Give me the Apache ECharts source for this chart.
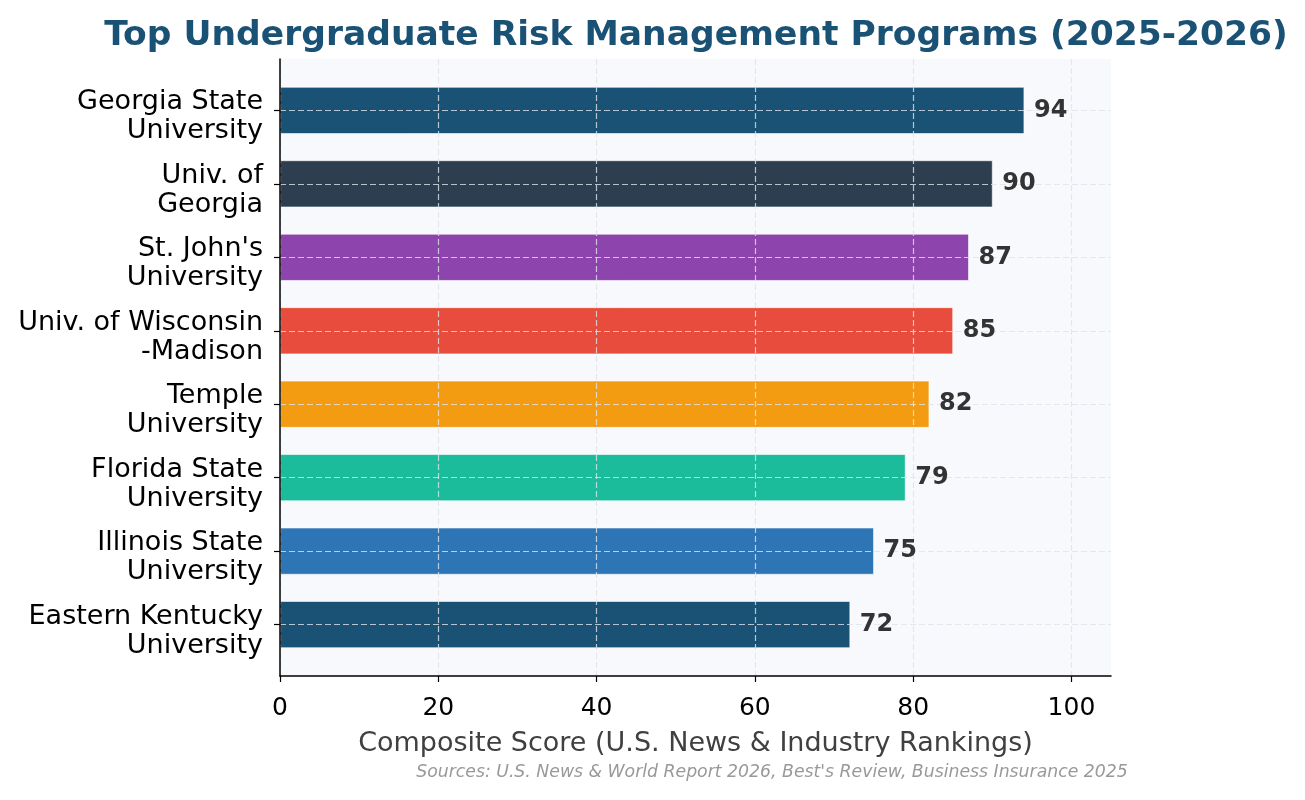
<!DOCTYPE html>
<html>
<head>
<meta charset="utf-8">
<script src="https://cdn.jsdelivr.net/npm/echarts@6/dist/echarts.min.js"></script>
<style>html,body{margin:0;padding:0;background:#fff}#c{width:1305px;height:800px}</style>
</head>
<body>
<div id="c"></div>
<script>
const categories = ["Georgia State\nUniversity", "Univ. of\nGeorgia", "St. John's\nUniversity", "Univ. of Wisconsin\n-Madison", "Temple\nUniversity", "Florida State\nUniversity", "Illinois State\nUniversity", "Eastern Kentucky\nUniversity"];
const scores = [94, 90, 87, 85, 82, 79, 75, 72];
const barColors = ["#1a5276", "#2c3e50", "#8e44ad", "#e74c3c", "#f39c12", "#1abc9c", "#2e75b6", "#1a5276"];
const xTicks = [0, 20, 40, 60, 80, 100];
const BAR_H = 0.63;

const FONT = '"DejaVu Sans", "Liberation Sans", sans-serif';
const chart = echarts.init(document.getElementById('c'), null, {renderer: 'canvas'});
const data = scores.map((v, i) => [i, v]);
const catPos = categories.map((c, i) => i);
const gridLine = {show: true, lineStyle: {color: '#dfe3ea', opacity: 0.8, width: 1.2, type: [6, 3]}};

function catLabel(v) {
  const parts = categories[Math.round(v)].split('\n');
  return '{t|' + parts[0] + '}\n{b|' + (parts[1] || '') + '}';
}

chart.setOption({
  animation: false,
  backgroundColor: '#ffffff',
  title: {
    text: 'Top Undergraduate Risk Management Programs (2025-2026)',
    left: 691, top: 14, textAlign: 'center',
    textStyle: {fontFamily: FONT, fontSize: 34.5, fontWeight: 'bold', color: '#1a5276'}
  },
  grid: {left: 280, right: 194, top: 59, bottom: 124, show: true, backgroundColor: '#f8f9fc', borderWidth: 0},
  xAxis: {
    type: 'value', min: 0, max: 105, interval: 20, z: 3,
    name: 'Composite Score (U.S. News & Industry Rankings)',
    nameLocation: 'middle', nameGap: 54,
    nameTextStyle: {fontFamily: FONT, fontSize: 27, color: '#404040'},
    axisLine: {show: true, onZero: false, lineStyle: {color: '#000', width: 1.5}},
    axisTick: {show: true, length: 6, lineStyle: {color: '#000', width: 1.2}, customValues: xTicks},
    axisLabel: {fontFamily: FONT, fontSize: 25, color: '#000', margin: 20, customValues: xTicks},
    splitLine: gridLine
  },
  yAxis: {
    type: 'value', min: -0.7, max: 7.7, inverse: true, z: 3,
    axisLine: {show: true, onZero: false, lineStyle: {color: '#000', width: 1.5}},
    axisTick: {show: true, length: 6, lineStyle: {color: '#000', width: 1.2}, customValues: catPos},
    axisLabel: {
      fontFamily: FONT, fontSize: 27, color: '#000', margin: 17, align: 'right',
      customValues: catPos,
      formatter: catLabel,
      rich: {
        t: {fontFamily: FONT, fontSize: 27, color: '#000', lineHeight: 42, align: 'right'},
        b: {fontFamily: FONT, fontSize: 27, color: '#000', lineHeight: 16, align: 'right'}
      }
    },
    splitLine: gridLine
  },
  series: [{
    type: 'custom',
    z: 2,
    data: data,
    encode: {x: 1, y: 0},
    renderItem: function (params, api) {
      const idx = api.value(0);
      const v = api.value(1);
      const s = api.coord([0, idx]);
      const e = api.coord([v, idx]);
      const h = Math.abs(api.size([0, BAR_H])[1]);
      return {type: 'rect', shape: {x: s[0], y: s[1] - h / 2, width: e[0] - s[0], height: h},
        style: {fill: barColors[idx], stroke: 'rgba(255,255,255,0.6)', lineWidth: 1}};
    }
  }, {
    type: 'custom',
    z: 6,
    data: data,
    encode: {x: 1, y: 0},
    renderItem: function (params, api) {
      const v = api.value(1);
      const e = api.coord([v, api.value(0)]);
      return {type: 'text', style: {text: String(v), x: e[0] + 10, y: e[1], verticalAlign: 'middle', align: 'left',
        font: 'bold 24px ' + FONT, fill: '#333333'}};
    }
  }],
  graphic: [{
    type: 'text', x: 772, y: 773,
    style: {text: "Sources: U.S. News & World Report 2026, Best's Review, Business Insurance 2025",
      font: 'italic 17.3px ' + FONT, fill: '#999999', align: 'center', verticalAlign: 'middle'}
  }]
});
</script>
</body>
</html>
